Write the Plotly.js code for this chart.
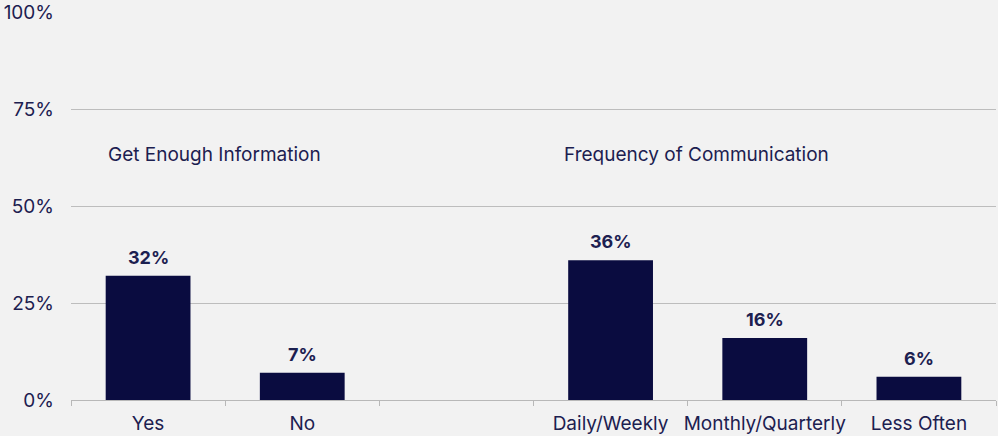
<!DOCTYPE html>
<html>
<head>
<meta charset="utf-8">
<script src="https://cdn.plot.ly/plotly-3.0.1.min.js"></script>
<style>
  html, body { margin: 0; padding: 0; background: #f2f2f2; }
  #chart { width: 998px; height: 436px; }
</style>
</head>
<body>
<div id="chart"></div>
<script>
const categories = ["Yes", "No", " ", "Daily/Weekly", "Monthly/Quarterly", "Less Often"];
const values = [32, 7, null, 36, 16, 6];
const labels = ["32%", "7%", "", "36%", "16%", "6%"];
const groupTitles = ["Get Enough Information", "Frequency of Communication"];
const yTickVals = [0, 25, 50, 75, 100];
const yTickText = ["0%", "25%", "50%", "75%", "100%"];

const navy = "#0a0c40";
const textColor = "#1c2050";
const font = "Inter, 'Noto Sans', sans-serif";

const trace = {
  type: "bar",
  x: categories,
  y: values,
  marker: { color: navy },
  hoverinfo: "skip"
};

const labelAnnotations = categories.map((c, i) => values[i] == null ? null : ({
  text: labels[i], x: c, y: values[i], xref: "x", yref: "y", showarrow: false,
  xanchor: "center", yanchor: "bottom", yshift: 6,
  font: { family: font, size: 18, color: textColor, weight: 700 }
})).filter(a => a);

const layout = {
  width: 998,
  height: 436,
  margin: { l: 71, r: 2, t: 12, b: 36 },
  paper_bgcolor: "#f2f2f2",
  plot_bgcolor: "#f2f2f2",
  bargap: 0.45,
  showlegend: false,
  font: { family: font, size: 19, color: textColor },
  xaxis: {
    type: "category",
    tickson: "boundaries",
    ticks: "outside",
    ticklen: 5,
    tickcolor: "#b8b8b8",
    tickangle: 0,
    showgrid: false,
    showline: true,
    linecolor: "#b8b8b8",
    linewidth: 1,
    ticklabelstandoff: 6,
    tickfont: { family: font, size: 19, color: textColor },
    fixedrange: true
  },
  yaxis: {
    range: [0, 100],
    tickvals: yTickVals,
    ticktext: yTickText,
    showgrid: true,
    gridcolor: "#bdbdbd",
    zeroline: false,
    ticks: "",
    ticklabelstandoff: 16,
    tickfont: { family: font, size: 19, color: textColor },
    fixedrange: true
  },
  annotations: [
    { text: groupTitles[0], x: 0.434, y: 63.4, xref: "x", yref: "y", showarrow: false,
      xanchor: "center", yanchor: "middle", font: { family: font, size: 19, color: textColor } },
    { text: groupTitles[1], x: 3.56, y: 63.4, xref: "x", yref: "y", showarrow: false,
      xanchor: "center", yanchor: "middle", font: { family: font, size: 19, color: textColor } }
  ].concat(labelAnnotations)
};

Plotly.newPlot("chart", [trace], layout, { displayModeBar: false, staticPlot: true });
</script>
</body>
</html>
